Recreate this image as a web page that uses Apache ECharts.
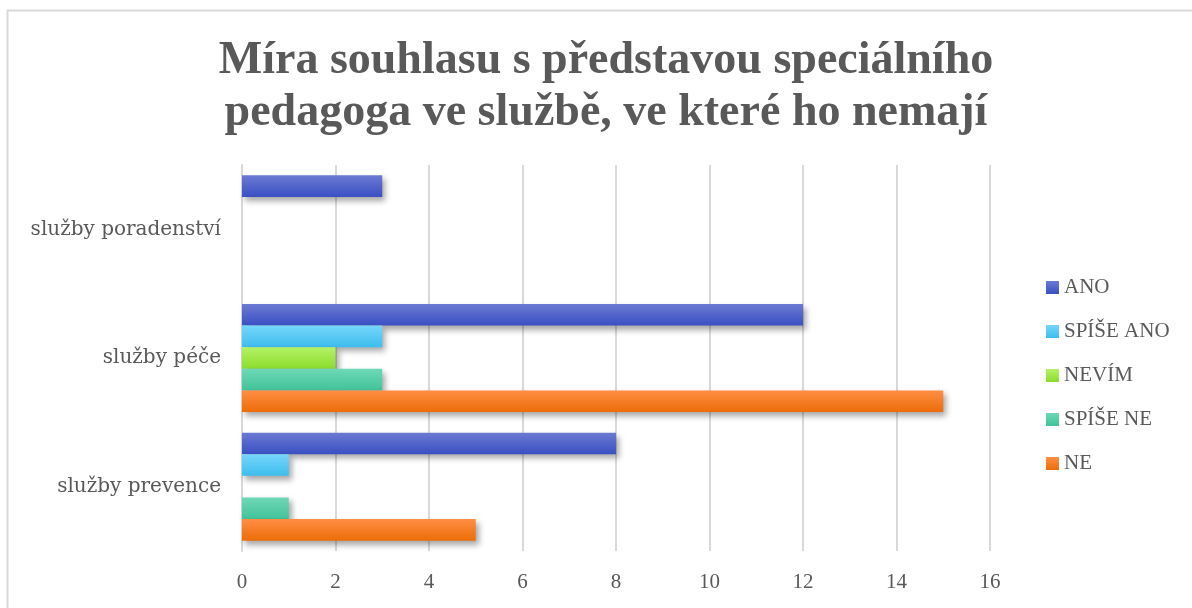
<!DOCTYPE html>
<html>
<head>
<meta charset="utf-8">
<script src="https://cdn.jsdelivr.net/npm/echarts@6/dist/echarts.min.js"></script>
<style>
  html, body { margin: 0; padding: 0; background: #fff; }
  #chart { width: 1192px; height: 608px; }
</style>
</head>
<body>
<div id="chart"></div>
<script>
// categories, bottom to top
const categories = ['služby prevence', 'služby péče', 'služby poradenství'];
const seriesNames = ['ANO', 'SPÍŠE ANO', 'NEVÍM', 'SPÍŠE NE', 'NE'];
const ano = [8, 12, 3];
const spiseAno = [1, 3, 0];
const nevim = [0, 2, 0];
const spiseNe = [1, 3, 0];
const ne = [5, 15, 0];
const xTicks = [0, 2, 4, 6, 8, 10, 12, 14, 16];

const values = [ano, spiseAno, nevim, spiseNe, ne];
const colors = [
  ['#6b7ad2', '#3a50c3'],
  ['#76d6fa', '#3dbdee'],
  ['#b4f266', '#8bdc2c'],
  ['#6ed8b6', '#42c39a'],
  ['#ff8e44', '#ec6c08']
];

const serif = '"Liberation Serif", "DejaVu Serif", serif';
const wideSerif = '"DejaVu Serif", serif';
const grey = '#595959';

const grad = (c) => ({
  type: 'linear', x: 0, y: 0, x2: 0, y2: 1,
  colorStops: [{offset: 0, color: c[0]}, {offset: 1, color: c[1]}]
});

const series = seriesNames.map((name, i) => ({
  name: name,
  type: 'bar',
  data: values[i],
  barCategoryGap: '16%',
  barGap: '0%',
  itemStyle: {
    color: grad(colors[i]),
    shadowColor: 'rgba(0,0,0,0.35)',
    shadowBlur: 6,
    shadowOffsetX: 3,
    shadowOffsetY: 4
  },
  emphasis: { disabled: true }
}));

const chart = echarts.init(document.getElementById('chart'));
chart.setOption({
  animation: false,
  backgroundColor: '#fff',
  title: {
    text: 'Míra souhlasu s představou speciálního\npedagoga ve službě, ve které ho nemají',
    left: 601,
    textAlign: 'center',
    top: 30,
    textStyle: {
      fontFamily: serif,
      fontWeight: 'bold',
      fontSize: 46,
      lineHeight: 52,
      color: grey
    }
  },
  legend: {
    orient: 'vertical',
    left: 1041,
    top: 272,
    itemWidth: 13,
    itemHeight: 13,
    itemGap: 23,
    icon: 'rect',
    data: seriesNames,
    textStyle: { fontFamily: serif, fontSize: 21, color: grey }
  },
  grid: { left: 242, right: 202, top: 165, bottom: 57, containLabel: false },
  xAxis: {
    type: 'value',
    min: xTicks[0],
    max: xTicks[xTicks.length - 1],
    interval: 2,
    axisLine: { show: false },
    axisTick: { show: false },
    splitLine: { lineStyle: { color: '#d9d9d9', width: 2 } },
    axisLabel: { fontFamily: serif, fontSize: 21, color: grey, margin: 21 }
  },
  yAxis: {
    type: 'category',
    data: categories,
    axisLine: { lineStyle: { color: '#d9d9d9', width: 2 } },
    axisTick: { length: 7, lineStyle: { color: '#d9d9d9', width: 2 } },
    axisLabel: { fontFamily: wideSerif, fontSize: 20, color: grey, margin: 21 }
  },
  graphic: [{
    type: 'rect',
    shape: { x: 7.5, y: 10.5, width: 1200, height: 620 },
    style: { fill: 'none', stroke: '#d9d9d9', lineWidth: 2 },
    silent: true
  }],
  series: series
});
</script>
</body>
</html>
